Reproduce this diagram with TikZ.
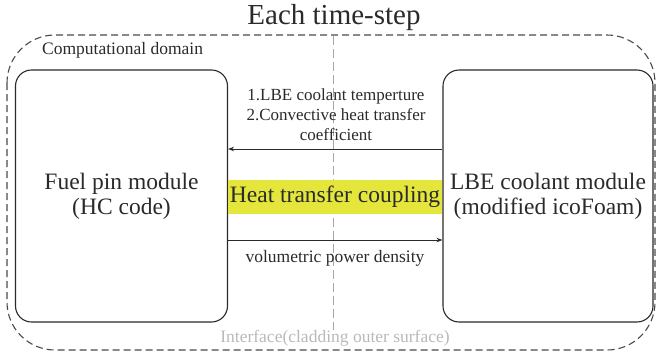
\documentclass[tikz,border=0pt]{standalone}
\usepackage{fontspec}
\setmainfont{Liberation Serif}
\newfontfamily\tnr{Liberation Serif}
\usetikzlibrary{arrows.meta}
\definecolor{hl}{HTML}{E4E63C}
\definecolor{ink}{HTML}{2A2A2A}
\tikzset{
  every node/.style={font=\tnr},
  modbox/.style={draw=ink, line width=1.1pt, rounded corners=16pt, minimum width=212pt, minimum height=252pt, align=center, font=\tnr\fontsize{23.5}{25}\selectfont, text=ink},
  flow/.style={draw=ink, line width=1pt, -{Stealth[length=6pt,width=4.5pt]}},
  lbl/.style={align=center, text=ink, inner sep=0pt},
}
\begin{document}
\begin{tikzpicture}[x=1pt,y=-1pt]
\useasboundingbox (0,0) rectangle (658,359);
% outer domain
\draw[ink!85, line width=1.1pt, dash pattern=on 7pt off 4pt, rounded corners=48pt] (7,35) rectangle (655,350);
% centre line
\coordinate (ctop) at (333,36);
\coordinate (cbot) at (333,330);
\draw[gray!70, line width=0.6pt, dash pattern=on 9pt off 4pt] (ctop) -- (cbot);
% title
\node[lbl, font=\tnr\fontsize{29}{34}\selectfont] (title) at (334,18) {Each time-step};
\node[lbl, anchor=west, font=\tnr\fontsize{17.5}{20}\selectfont] (dom) at (42,50) {Computational domain};
% modules
\node[modbox] (lbox) at (121.5,196) {Fuel pin module\\(HC code)};
\node[modbox, minimum width=210pt] (rbox) at (548,196) {LBE coolant module\\(modified icoFoam)};
% coupling highlight
\node[fill=hl, inner sep=0pt, minimum width=214pt, minimum height=34pt, font=\tnr\fontsize{23.5}{26}\selectfont, text=ink] (coup) at (335,197) {Heat transfer coupling};
% arrows
\draw[flow] (rbox.west |- 0,149) -- (lbox.east |- 0,149);
\draw[flow] (lbox.east |- 0,240) -- (rbox.west |- 0,240);
\node[lbl, font=\tnr\fontsize{17}{20}\selectfont] (toplbl) at (336,115) {1.LBE coolant temperture\\2.Convective heat transfer\\coefficient};
\node[lbl, font=\tnr\fontsize{17.5}{20}\selectfont] (botlbl) at (335,258) {volumetric power density};
\node[lbl, text=gray!55, font=\tnr\fontsize{17.5}{20}\selectfont] (iface) at (335,338) {Interface(cladding outer surface)};
\end{tikzpicture}
\end{document}
